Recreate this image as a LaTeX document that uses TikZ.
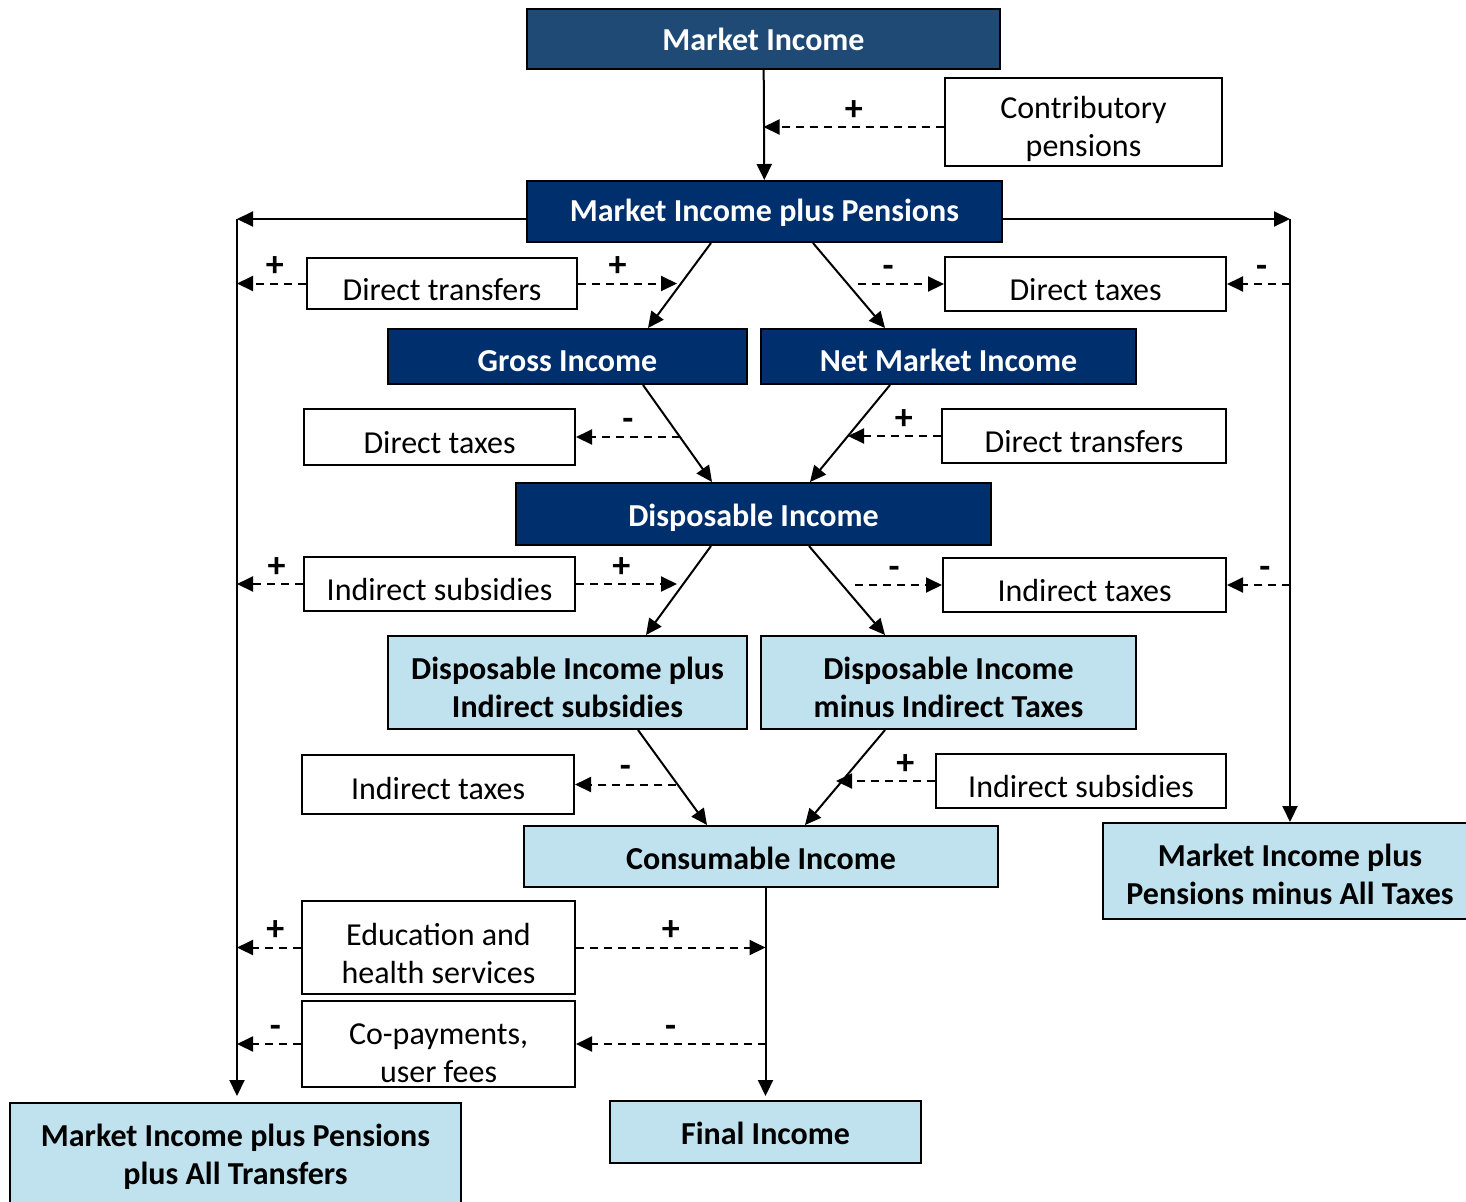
\documentclass[tikz,border=0pt]{standalone}
\usepackage{fontspec}
\setmainfont{Carlito}
\usepackage{xcolor}
\usetikzlibrary{arrows.meta, positioning}
\definecolor{steelnavy}{HTML}{1F4A76}
\definecolor{navy}{HTML}{002F6E}
\definecolor{paleblue}{HTML}{C0E2EE}

\begin{document}
\begin{tikzpicture}[
  x=0.5pt, y=-0.5pt,
  font=\fontsize{16}{19}\selectfont,
  base/.style={draw, line width=1pt, align=center, inner sep=2pt},
  sunk/.style={execute at begin node={\rule{0pt}{#1}}},
  sunk/.default=17pt,
  dark/.style={base, fill=navy, text=white, font=\fontsize{16}{19}\selectfont\bfseries},
  light/.style={base, fill=paleblue, font=\fontsize{16}{19}\selectfont\bfseries},
  plain/.style={base, fill=white},
  arr/.style={-{Triangle[length=8pt,width=7.5pt]}, line width=1pt},
  darr/.style={arr, dash pattern=on 4pt off 3pt},
  sign/.style={font=\fontsize{18}{20}\selectfont\bfseries, above=2pt, inner sep=1pt}
]
\useasboundingbox (0,0) rectangle (1466,1201);
\clip (0,0) rectangle (1466,1201);

% income concepts
\node[dark, fill=steelnavy, minimum width=236.5pt, minimum height=30pt] (mi) at (763.5,39) {Market Income};
\node[dark, sunk=13pt, minimum width=237.5pt, minimum height=30.5pt] (mipp) at (764.5,211.5) {Market Income plus Pensions};
\node[dark, sunk=15.5pt, minimum width=179.5pt, minimum height=27.5pt] (gi) at (567.5,356.5) {Gross Income};
\node[dark, sunk=15.5pt, minimum width=187.5pt, minimum height=27.5pt] (nmi) at (948.5,356.5) {Net Market Income};
\node[dark, sunk=15.5pt, minimum width=237.5pt, minimum height=31pt] (di) at (753.5,514) {Disposable Income};
\node[light, minimum width=179.5pt, minimum height=46.5pt] (dis) at (567.5,682.5) {\rule{0pt}{16pt}Disposable Income plus\\Indirect subsidies};
\node[light, minimum width=187.5pt, minimum height=46.5pt] (dit) at (948.5,682.5) {\rule{0pt}{16pt}Disposable Income\\minus Indirect Taxes};
\node[light, sunk=13pt, minimum width=237pt, minimum height=30.5pt] (ci) at (761,856.5) {Consumable Income};
\node[light, sunk=13pt, minimum width=155.5pt, minimum height=31pt] (fi) at (765.5,1132) {Final Income};
\node[light, minimum width=187pt, minimum height=48pt] (mipmt) at (1290,871) {\rule{0pt}{15pt}Market Income plus\\Pensions minus All Taxes};
\node[light, minimum width=225.5pt, minimum height=50pt] (mippat) at (235.5,1153) {\rule{0pt}{15pt}Market Income plus Pensions\\plus All Transfers};

% flows
\node[plain, minimum width=138.5pt, minimum height=44pt] (cp) at (1083.5,122) {\rule{0pt}{18pt}Contributory\\pensions};
\node[plain, sunk, minimum width=135pt, minimum height=25.5pt] (dtrL) at (442,283.5) {Direct transfers};
\node[plain, sunk, minimum width=140.5pt, minimum height=27pt] (dtaxR) at (1085.5,284) {Direct taxes};
\node[plain, sunk, minimum width=135.5pt, minimum height=28pt] (dtaxL) at (439.5,437) {Direct taxes};
\node[plain, sunk, minimum width=142pt, minimum height=27pt] (dtrR) at (1084,436) {Direct transfers};
\node[plain, sunk, minimum width=135.5pt, minimum height=27pt] (isubL) at (439.5,584) {Indirect subsidies};
\node[plain, sunk, minimum width=141.5pt, minimum height=27pt] (itaxR) at (1084.5,585) {Indirect taxes};
\node[plain, sunk=15pt, minimum width=136pt, minimum height=29.5pt] (itaxL) at (438,784.5) {Indirect taxes};
\node[plain, sunk, minimum width=145pt, minimum height=27pt] (isubR) at (1081,781) {Indirect subsidies};
\node[plain, minimum width=136.5pt, minimum height=46.5pt] (ehs) at (438.5,947.5) {\rule{0pt}{17pt}Education and\\health services};
\node[plain, minimum width=136.5pt, minimum height=43pt] (cop) at (438.5,1044) {\rule{0pt}{20pt}Co-payments,\\user fees};

% trunk corners and meeting points
\coordinate (lt) at (237,219);
\coordinate (rt) at (1290,219);
\coordinate (p1) at (677,0);
\coordinate (p2) at (858,0);
\coordinate (p3) at (680,0);
\coordinate (p4) at (848,0);
\coordinate (p5) at (677,0);
\coordinate (p6) at (855,0);
\coordinate (p7) at (676,0);
\coordinate (p8) at (836,0);

\draw[arr] (mi) -- (mipp);
\draw[darr] ([yshift=-2.5pt]cp.west) -- ([yshift=-2.5pt]cp.west -| mi.south) node[sign, pos=0.5] {+};

\draw[arr] (lt -| mipp.west) -- (lt);
\draw[arr] (lt) -- ([yshift=3pt]lt |- mippat.north);
\draw[arr] (rt -| mipp.east) -- (rt);
\draw[arr] (rt) -- (rt |- mipmt.north);

\draw[arr] ([xshift=-26.75pt]mipp.south) -- ([xshift=40.25pt]gi.north);
\draw[arr] ([xshift=24.25pt]mipp.south) -- ([xshift=-31.75pt]nmi.north);
\draw[darr] (dtrL.west) -- (dtrL.west -| lt) node[sign, pos=0.45] {+};
\draw[darr] (dtrL.east) -- (dtrL.east -| p1) node[sign, pos=0.4] {+};
\draw[darr] (dtaxR.west -| p2) -- (dtaxR.west) node[sign, pos=0.35] {-};
\draw[darr] (dtaxR.east -| rt) -- (dtaxR.east) node[sign, pos=0.45] {-};

\draw[arr] ([xshift=37.75pt]gi.south) -- ([xshift=-20.75pt]di.north);
\draw[arr] ([xshift=-29.25pt]nmi.south) -- ([xshift=28.25pt]di.north);
\draw[darr] (dtaxL.east -| p3) -- (dtaxL.east) node[sign, pos=0.5] {-};
\draw[darr] (dtrR.west) -- (dtrR.west -| p4) node[sign, pos=0.4] {+};

\draw[arr] ([xshift=-21.25pt]di.south) -- ([xshift=39.25pt]dis.north);
\draw[arr] ([xshift=27.75pt]di.south) -- ([xshift=-31.75pt]dit.north);
\draw[darr] (isubL.west) -- (isubL.west -| lt) node[sign, pos=0.4] {+};
\draw[darr] (isubL.east) -- (isubL.east -| p5) node[sign, pos=0.45] {+};
\draw[darr] (itaxR.west -| p6) -- (itaxR.west) node[sign, pos=0.45] {-};
\draw[darr] (itaxR.east -| rt) -- (itaxR.east) node[sign, pos=0.4] {-};

\draw[arr] ([xshift=35.25pt]dis.south) -- ([xshift=-27pt]ci.north);
\draw[arr] ([xshift=-31.75pt]dit.south) -- ([xshift=22pt]ci.north);
\draw[darr] (itaxL.east -| p7) -- (itaxL.east) node[sign, pos=0.5] {-};
\draw[darr] (isubR.west) -- (isubR.west -| p8) node[sign, pos=0.3] {+};

\draw[arr] (fi.north |- ci.south) -- ([yshift=2pt]fi.north);
\draw[darr] (ehs.west) -- (ehs.west -| lt) node[sign, pos=0.4] {+};
\draw[darr] (ehs.east) -- (ehs.east -| fi.north) node[sign, pos=0.5] {+};
\draw[darr] (cop.west) -- (cop.west -| lt) node[sign, pos=0.4] {-};
\draw[darr] (cop.east -| fi.north) -- (cop.east) node[sign, pos=0.5] {-};
\end{tikzpicture}
\end{document}
